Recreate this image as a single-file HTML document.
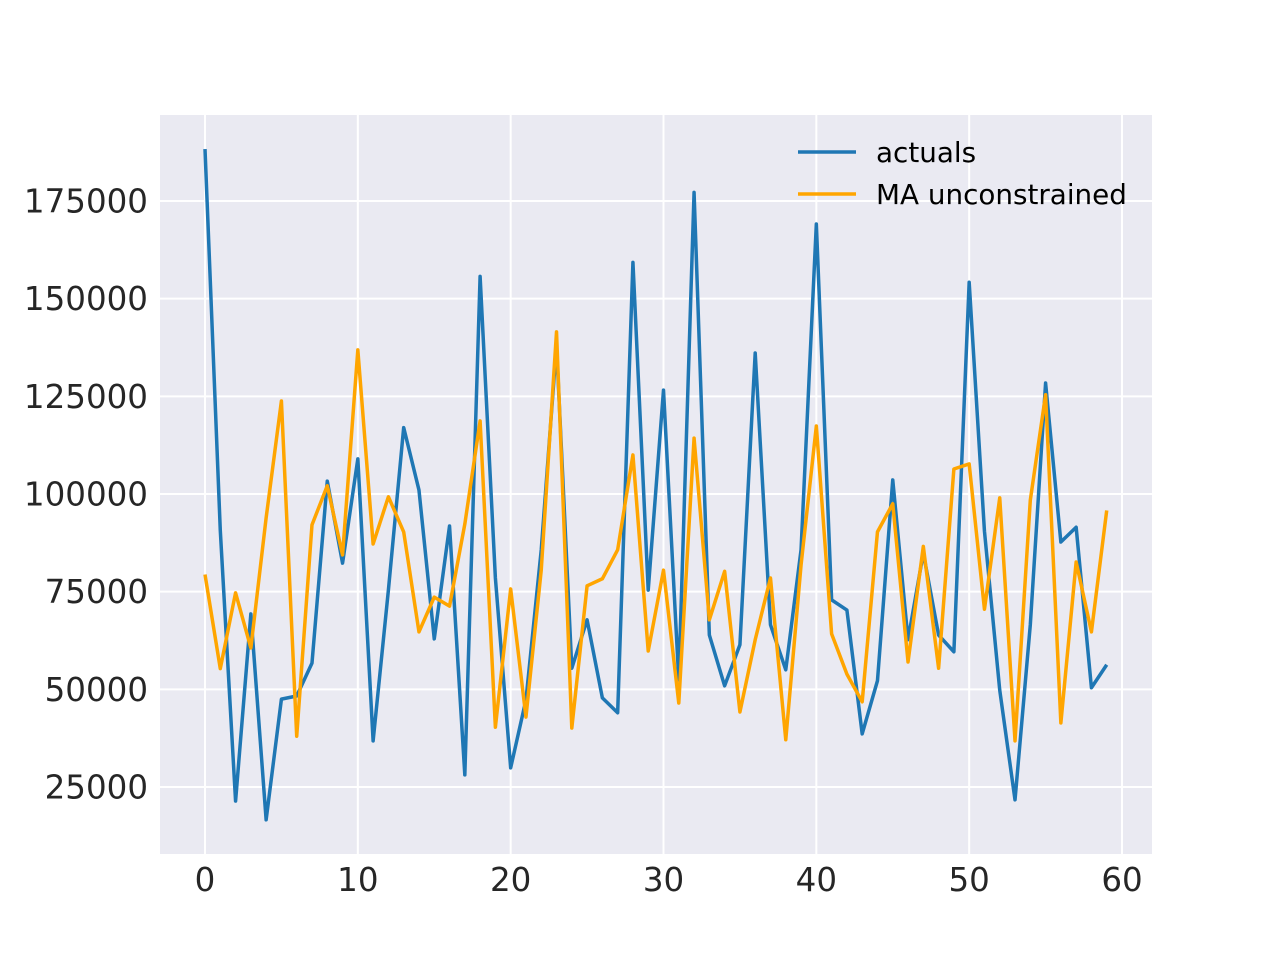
<!DOCTYPE html>
<html><head><meta charset="utf-8"><style>
html,body{margin:0;padding:0;background:#fff;}
svg text{font-family:"DejaVu Sans","Liberation Sans",sans-serif;}
</style></head><body>
<svg id="chart" width="1280" height="960" xmlns="http://www.w3.org/2000/svg">
<rect x="160" y="115" width="992" height="739" fill="#eaeaf2"/>
<g id="grid"></g><g id="ticks"></g><g id="series"></g>
<g>
<line x1="798" y1="152" x2="856" y2="152" stroke="#1f77b4" stroke-width="3.5"/>
<text x="876" y="162" font-size="27.8" fill="#000">actuals</text>
<line x1="798" y1="194" x2="856" y2="194" stroke="#ffa500" stroke-width="3.5"/>
<text x="876" y="204" font-size="27.8" fill="#000">MA unconstrained</text>
</g>
</svg>
<script>
const actuals=[188300,90700,21400,69300,16600,47500,48300,56700,103300,82300,109000,36800,75400,117000,101000,62900,91800,28100,155700,78500,29900,47300,85700,138100,55400,67800,47800,44000,159300,75400,126600,52400,177200,63900,50900,61400,136100,66500,55000,85700,169100,72900,70300,38600,52200,103600,62700,84900,63900,59600,154200,90500,49800,21700,66500,128400,87700,91500,50400,56300];
const maUnconstrained=[79400,55300,74700,60600,93900,123800,38000,92100,102100,84400,136900,87200,99300,90300,64700,73600,71300,92300,118700,40300,75700,42900,80500,141500,40100,76500,78300,85700,110000,59800,80500,46500,114300,67800,80200,44200,62700,78500,37100,81800,117400,64200,53900,46800,90300,97500,57000,86600,55400,106400,107700,70500,99000,36800,98400,125400,41400,82600,64700,95800];
const xTicks=[0,10,20,30,40,50,60];
const yTicks=[25000,50000,75000,100000,125000,150000,175000];
const NS='http://www.w3.org/2000/svg';
const sx=v=>205+v*(1122-205)/60;
const sy=v=>787-(v-25000)*(586/150000);
function mk(tag,attrs,parent){const e=document.createElementNS(NS,tag);for(const k in attrs)e.setAttribute(k,attrs[k]);parent.appendChild(e);return e;}
const grid=document.getElementById('grid'),ticks=document.getElementById('ticks'),series=document.getElementById('series');
xTicks.forEach(t=>{
 const l=mk('line',{x1:sx(t),x2:sx(t),y1:115,y2:854,stroke:'#fff','stroke-width':2},grid);
 
 
 const tx=mk('text',{x:sx(t),y:891,'font-size':32.5,fill:'#262626','text-anchor':'middle'},ticks);
 tx.textContent=t;
 
 
});
yTicks.forEach(t=>{
 const l=mk('line',{x1:160,x2:1152,y1:sy(t),y2:sy(t),stroke:'#fff','stroke-width':2},grid);
 
 
 const tx=mk('text',{x:148,y:sy(t)+11.5,'font-size':32.5,fill:'#262626','text-anchor':'end'},ticks);
 tx.textContent=t;
 
 
});
function line(data,color,name){
 const p=mk('polyline',{points:data.map((v,i)=>sx(i)+','+sy(v)).join(' '),fill:'none',stroke:color,'stroke-width':3.5,'stroke-linejoin':'round'},series);
 
 
}
line(actuals,'#1f77b4','actuals-line');
line(maUnconstrained,'#ffa500','ma-unconstrained-line');
</script>
</body></html>
